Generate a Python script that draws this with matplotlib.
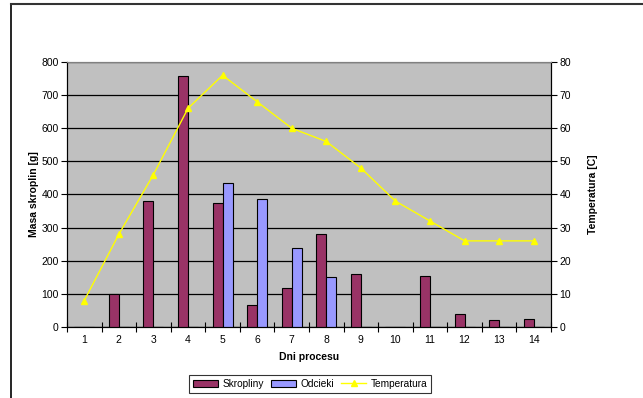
import numpy as np
import matplotlib
matplotlib.use('Agg')
import matplotlib.pyplot as plt
from matplotlib.lines import Line2D

plt.rcParams['font.family'] = ['Liberation Sans', 'DejaVu Sans']

days = np.arange(1, 15)
skropliny = [0, 100, 380, 757, 375, 65, 118, 280, 160, 0, 153, 38, 20, 25]
odcieki = [0, 0, 0, 0, 435, 385, 238, 150, 0, 0, 0, 0, 0, 0]
temperatura = [8, 28, 46, 66, 76, 68, 60, 56, 48, 38, 32, 26, 26, 26]

fig = plt.figure(figsize=(6.43, 3.98), dpi=100)
ax = fig.add_axes([67/643, 1 - 327/398, 484/643, 265/398])
ax.set_facecolor('#C0C0C0')

w = 0.29
ax.bar(days - w/2, skropliny, w, color='#993366', edgecolor='black', linewidth=0.8,
       label='Skropliny', zorder=3)
ax.bar(days + w/2, odcieki, w, color='#9999FF', edgecolor='black', linewidth=0.8,
       label='Odcieki', zorder=3)

ax.set_xlim(0.5, 14.5)
ax.set_ylim(0, 800)
ax.set_yticks(np.arange(0, 801, 100))
ax.yaxis.grid(True, color='black', linewidth=0.9)
ax.set_axisbelow(True)

# ticks on category boundaries, labels under the categories
ax.set_xticks(np.arange(0.5, 14.6, 1))
ax.set_xticklabels([])
ax.set_xticks(days, minor=True)
ax.set_xticklabels([str(d) for d in days], minor=True)
ax.tick_params(axis='x', which='major', direction='inout', length=7, width=0.8)
ax.tick_params(axis='x', which='minor', length=0, pad=6, labelsize=7.5)
ax.tick_params(axis='y', direction='out', length=4, width=0.8, labelsize=7.5, pad=2)

ax.set_xlabel('Dni procesu', fontsize=7.5, fontweight='bold', labelpad=5)
ax.set_ylabel('Masa skroplin [g]', fontsize=7.5, fontweight='bold', labelpad=2)

ax2 = ax.twinx()
ax2.plot(days, temperatura, color='#FFFF00', linewidth=1, marker='^', markersize=5,
         label='Temperatura', zorder=4)
ax2.set_ylim(0, 80)
ax2.set_yticks(np.arange(0, 81, 10))
ax2.tick_params(axis='y', direction='out', length=4, width=0.8, labelsize=7.5, pad=2)
ax2.set_ylabel('Temperatura [C]', fontsize=7.5, fontweight='bold', labelpad=12)

for a in (ax, ax2):
    a.spines['top'].set_color('#808080')
    a.spines['left'].set_color('black')
    a.spines['right'].set_color('black')
    a.spines['bottom'].set_color('black')

h1, l1 = ax.get_legend_handles_labels()
h2, l2 = ax2.get_legend_handles_labels()
leg = fig.legend(h1 + h2, l1 + l2, loc='center', bbox_to_anchor=(310/643, 1 - 384/398),
                 ncol=3, fontsize=7.3, frameon=True, fancybox=False, handlelength=2.5,
                 handleheight=0.7, columnspacing=0.7, handletextpad=0.4, borderpad=0.4)
leg.get_frame().set_edgecolor('black')
leg.get_frame().set_linewidth(0.8)

# outer frame of the chart area
fig.add_artist(Line2D([11/643, 11/643], [0, 1 - 3.5/398], color='black', linewidth=1.2,
                      transform=fig.transFigure))
fig.add_artist(Line2D([11/643, 1], [1 - 3.5/398, 1 - 3.5/398], color='#333333', linewidth=1.5,
                      transform=fig.transFigure))

fig.savefig('out.png', dpi=100)
